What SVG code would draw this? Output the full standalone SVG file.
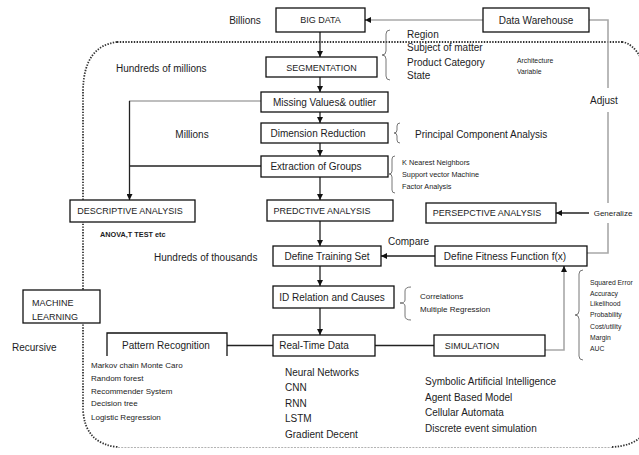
<svg xmlns="http://www.w3.org/2000/svg" width="639" height="455" viewBox="0 0 639 455">
<defs>
<marker id="ah" viewBox="0 0 10 10" refX="10" refY="5" markerWidth="6" markerHeight="6" orient="auto" markerUnits="userSpaceOnUse">
<path d="M0,0 L10,5 L0,10 z" fill="#111"/>
</marker>
</defs>
<style>
text{font-family:"Liberation Sans",Arial,sans-serif;fill:#1c1c24;dominant-baseline:central}
.box{fill:#fff;stroke:#111;stroke-width:1.3}
.c{text-anchor:middle}
.t10{font-size:10px}
.t9{font-size:9px}
.t8{font-size:8px}
.t7{font-size:7.3px}
.t6{font-size:6.8px}
.ln{fill:none;stroke:#222;stroke-width:1.3}
.gl{fill:none;stroke:#a8a8a8;stroke-width:1.6}
.br{fill:none;stroke:#666;stroke-width:0.9}
.dot{fill:none;stroke:#333;stroke-width:1.8;stroke-dasharray:1.4 1.4}
.dash{fill:none;stroke:#aaa;stroke-width:0.9;stroke-dasharray:2 1.2}
</style>
<rect width="639" height="455" fill="#fff"/>

<g id="boundary">
<path class="dot" d="M117,42 H622"/>
<path class="dot" d="M117,42 Q84,46 83,90 V410 Q85,444 118,447"/>
<path class="dot" d="M622,42 Q633,43 642,60"/>
<path class="dash" d="M118,447.5 H612"/>
<path class="dot" d="M612,447 Q632,446 642,436"/>
</g>

<g id="connectors">
<path class="gl" d="M483,20 H367"/>
<path class="ln" d="M366,20 H365" marker-end="url(#ah)"/>
<path class="ln" d="M320,32 V57" marker-end="url(#ah)"/>
<path class="ln" d="M320,77 V92" marker-end="url(#ah)"/>
<path class="ln" d="M320,112 V123" marker-end="url(#ah)"/>
<path class="ln" d="M320,143 V156" marker-end="url(#ah)"/>
<path class="ln" d="M320,177 V200" marker-end="url(#ah)"/>
<path class="gl" d="M261,101 H129"/>
<path class="ln" d="M129.5,101 V200" marker-end="url(#ah)"/>
<path class="ln" d="M261,166 H129"/>
<path class="ln" d="M320,221 V246" marker-end="url(#ah)"/>
<path class="ln" d="M435,256 H381" marker-end="url(#ah)"/>
<path class="ln" d="M320,266 V286" marker-end="url(#ah)"/>
<path class="ln" d="M320,308 V335" marker-end="url(#ah)"/>
<path class="ln" d="M375,345.5 H434"/>
<path class="ln" d="M227,345.5 H273"/>
<path class="gl" d="M545,350 H564 V270"/>
<path class="ln" d="M564,272 V266" marker-end="url(#ah)"/>
<path class="gl" d="M589,20 H608 V88"/>
<path class="gl" d="M608,112 V203"/>
<path class="gl" d="M608,223 V253 H587"/>
<path class="ln" d="M589,213 H556" marker-end="url(#ah)"/>
</g>

<g id="braces">
<path class="br" d="M390,30 Q386,30 386,34 V51 Q386,55 382,55 Q386,55 386,59 V76 Q386,80 390,80"/>
<path class="br" d="M400,123 Q397,123 397,126 V130 Q397,133 394,133 Q397,133 397,136 V140 Q397,143 400,143"/>
<path class="br" d="M395,156 Q392,156 392,159 V171 Q392,174 389,174 Q392,174 392,177 V190 Q392,193 395,193"/>
<path class="br" d="M411,287 Q405,287 405,291 V300 Q405,303 400,303 Q405,303 405,306 V316 Q405,320 411,320"/>
<path class="br" d="M583,270 Q579,270 579,274 V311 Q579,315 575,315 Q579,315 579,319 V356 Q579,360 583,360"/>
</g>

<g id="bigdata"><rect class="box" x="276" y="8" width="89" height="24"/><text class="c t9" x="320.5" y="20">BIG DATA</text></g>
<g id="warehouse"><rect class="box" x="483" y="8" width="106" height="24"/><text class="c t10" x="536" y="20">Data Warehouse</text></g>
<g id="segmentation"><rect class="box" x="266" y="57" width="111" height="20"/><text class="c t9" x="321.5" y="67.5">SEGMENTATION</text></g>
<g id="missing"><rect class="box" x="261" y="92" width="127" height="20"/><text class="c t10" x="324.5" y="102">Missing Values&amp; outlier</text></g>
<g id="dimension"><rect class="box" x="261" y="123" width="127" height="20"/><text class="c t10" x="318" y="133">Dimension Reduction</text></g>
<g id="extraction"><rect class="box" x="261" y="156" width="127" height="21"/><text class="c t10" x="316" y="166.5">Extraction of Groups</text></g>
<g id="descriptive"><rect class="box" x="70" y="200" width="125" height="22"/><text class="c t9" x="130" y="211">DESCRIPTIVE ANALYSIS</text></g>
<g id="predictive"><rect class="box" x="267" y="200" width="126" height="21"/><text class="c t9" x="322" y="210.5">PREDCTIVE ANALYSIS</text></g>
<g id="perspective"><rect class="box" x="426" y="203" width="130" height="20"/><text class="c t9" x="487" y="213">PERSEPCTIVE ANALYSIS</text></g>
<g id="training"><rect class="box" x="273" y="246" width="108" height="20"/><text class="c t10" x="327" y="256">Define Training Set</text></g>
<g id="fitness"><rect class="box" x="435" y="246" width="152" height="20"/><text class="c t10" x="505" y="256">Define Fitness Function f(x)</text></g>
<g id="relation"><rect class="box" x="273" y="286" width="121" height="22"/><text class="c t10" x="332" y="297">ID Relation and Causes</text></g>
<g id="realtime"><rect class="box" x="273" y="335" width="102" height="21"/><text class="c t10" x="314" y="345.5">Real-Time Data</text></g>
<g id="simulation"><rect class="box" x="434" y="335" width="111" height="21"/><text class="c t9" x="472" y="345.5">SIMULATION</text></g>
<g id="pattern"><path d="M107,356 V333 H227 V356" fill="#fff" stroke="#111" stroke-width="1.3"/><text class="c t10" x="166" y="345">Pattern  Recognition</text></g>
<g id="machine"><rect class="box" x="23" y="290" width="77" height="33"/><text class="t9" x="32" y="303">MACHINE</text><text class="t9" x="32" y="317">LEARNING</text></g>

<g id="labels">
<text class="c t10" x="245" y="20">Billions</text>
<text class="t10" x="116" y="68">Hundreds of millions</text>
<text class="c t10" x="192" y="134">Millions</text>
<text class="t10" x="154" y="257">Hundreds of thousands</text>
<text class="t10" x="388" y="241">Compare</text>
<text class="c t10" x="604" y="100">Adjust</text>
<text class="c t8" x="613" y="213">Generalize</text>
<text class="t10" x="12" y="347">Recursive</text>
<text class="t7" x="100" y="234" style="font-weight:bold">ANOVA,T TEST etc</text>

<text class="t10" x="407" y="34">Region</text>
<text class="t10" x="407" y="47.5">Subject of matter</text>
<text class="t10" x="407" y="62">Product Category</text>
<text class="t10" x="407" y="75">State</text>
<text class="t6" x="517" y="60">Architecture</text>
<text class="t6" x="517" y="71">Variable</text>

<text class="t10" x="415" y="134">Principal Component Analysis</text>
<text class="t7" x="402" y="162">K Nearest Neighbors</text>
<text class="t7" x="402" y="174">Support vector Machine</text>
<text class="t7" x="402" y="186">Factor Analysis</text>

<text class="t8" x="420" y="296">Correlations</text>
<text class="t8" x="420" y="309">Multiple  Regression</text>

<text class="t6" x="590" y="282">Squared Error</text>
<text class="t6" x="590" y="293">Accuracy</text>
<text class="t6" x="590" y="303.5">Likelihood</text>
<text class="t6" x="590" y="314.5">Probability</text>
<text class="t6" x="590" y="326">Cost/utility</text>
<text class="t6" x="590" y="337">Margin</text>
<text class="t6" x="590" y="348">AUC</text>

<text class="t8" x="91" y="365">Markov chain  Monte Caro</text>
<text class="t8" x="91" y="378">Random forest</text>
<text class="t8" x="91" y="391">Recommender System</text>
<text class="t8" x="91" y="403">Decision tree</text>
<text class="t8" x="91" y="417">Logistic Regression</text>

<text class="t10" x="285" y="372">Neural Networks</text>
<text class="t10" x="285" y="387">CNN</text>
<text class="t10" x="285" y="403">RNN</text>
<text class="t10" x="285" y="418">LSTM</text>
<text class="t10" x="285" y="434">Gradient Decent</text>

<text class="t10" x="425" y="381">Symbolic  Artificial Intelligence</text>
<text class="t10" x="425" y="397">Agent Based Model</text>
<text class="t10" x="425" y="412">Cellular Automata</text>
<text class="t10" x="425" y="428">Discrete event simulation</text>
</g>
</svg>
